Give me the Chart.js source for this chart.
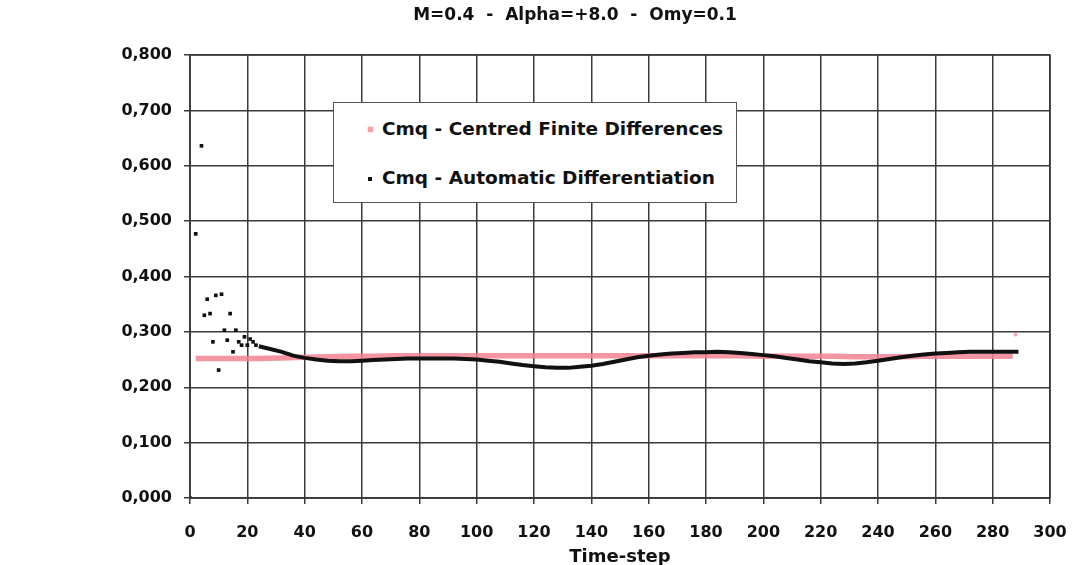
<!DOCTYPE html>
<html lang="en">
<head>
    <meta charset="UTF-8">
    <title>Cmq - M=0.4</title>
    <script src="https://cdn.jsdelivr.net/npm/chart.js"></script>
    <style>
        body { margin: 0; background: #fff; }
        .wrap { position: relative; width: 1076px; height: 565px; font-family: "DejaVu Sans", Arial, sans-serif; font-weight: bold; color: #111; }
        .titulo { position: absolute; left: 0; width: 1150px; top: 4px; text-align: center; font-size: 17px; white-space: pre; }
        .eixo-x { position: absolute; left: 520px; width: 200px; top: 545px; text-align: center; font-size: 18px; }
        .legenda { position: absolute; left: 333px; top: 102px; width: 402px; height: 99px; border: 1.5px solid #555; background: #fff; font-size: 18.5px; }
        .item { position: absolute; left: 48px; white-space: nowrap; }
        .marca { position: absolute; left: -14px; top: 9px; width: 5px; height: 5px; }
    </style>
</head>
<body>
    <div class="wrap">
        <div class="titulo">M=0.4  -  Alpha=+8.0  -  Omy=0.1</div>
        <canvas id="grafico" width="1076" height="565"></canvas>
        <!-- legenda dentro da area do grafico -->
        <div class="legenda">
            <div class="item" style="top: 15px;"><span class="marca" style="background: #f5a0aa; box-shadow: 0 0 3px #f5b0b8;"></span>Cmq - Centred Finite Differences</div>
            <div class="item" style="top: 64px;"><span class="marca" style="background: #111; width: 4px; height: 4px; top: 10px;"></span>Cmq - Automatic Differentiation</div>
        </div>
        <div class="eixo-x">Time-step</div>
    </div>

<script>
    // Cmq - Centred Finite Differences
    const cfdSteps = [2, 8, 16, 24, 32, 40, 48, 56, 64, 72, 80, 88, 96, 104, 112, 120, 128, 136, 144, 152, 160, 168, 176, 184, 192, 200, 208, 216, 224, 232, 240, 248, 256, 264, 272, 280, 287];
    const cfdValues = [0.252, 0.252, 0.252, 0.252, 0.253, 0.254, 0.255, 0.256, 0.256, 0.257, 0.257, 0.257, 0.257, 0.257, 0.257, 0.257, 0.257, 0.257, 0.257, 0.257, 0.257, 0.257, 0.257, 0.257, 0.257, 0.256, 0.256, 0.256, 0.256, 0.255, 0.255, 0.255, 0.256, 0.256, 0.256, 0.256, 0.256];
    const cfdEndStep = [288];
    const cfdEndValue = [0.295];

    // Cmq - Automatic Differentiation (inicio disperso)
    const adScatterSteps = [0, 2, 4, 5, 6, 7, 8, 9, 10, 11, 12, 13, 14, 15, 16, 17, 18, 19, 20, 21, 22, 23];
    const adScatterValues = [0.000, 0.477, 0.636, 0.330, 0.359, 0.333, 0.282, 0.366, 0.231, 0.368, 0.303, 0.285, 0.333, 0.264, 0.303, 0.282, 0.276, 0.291, 0.276, 0.287, 0.282, 0.276];

    // Cmq - Automatic Differentiation (parte suave)
    const adSteps = [24, 28, 32, 36, 40, 44, 48, 52, 56, 60, 64, 68, 72, 76, 80, 84, 88, 92, 96, 100, 104, 108, 112, 116, 120, 124, 128, 132, 136, 140, 144, 148, 152, 156, 160, 164, 168, 172, 176, 180, 184, 188, 192, 196, 200, 204, 208, 212, 216, 220, 224, 228, 232, 236, 240, 244, 248, 252, 256, 260, 264, 268, 272, 276, 280, 284, 289];
    const adValues = [0.274, 0.269, 0.264, 0.257, 0.253, 0.250, 0.248, 0.247, 0.247, 0.248, 0.249, 0.250, 0.251, 0.252, 0.252, 0.252, 0.252, 0.252, 0.251, 0.250, 0.248, 0.246, 0.243, 0.240, 0.238, 0.236, 0.235, 0.235, 0.237, 0.239, 0.242, 0.246, 0.250, 0.254, 0.257, 0.259, 0.261, 0.262, 0.263, 0.263, 0.264, 0.263, 0.262, 0.260, 0.258, 0.256, 0.253, 0.250, 0.247, 0.245, 0.243, 0.242, 0.243, 0.245, 0.248, 0.251, 0.254, 0.257, 0.259, 0.261, 0.262, 0.263, 0.264, 0.264, 0.264, 0.264, 0.264];

    const xTicks = [0, 20, 40, 60, 80, 100, 120, 140, 160, 180, 200, 220, 240, 260, 280, 300];
    const yTicks = [0, 0.1, 0.2, 0.3, 0.4, 0.5, 0.6, 0.7, 0.8];

    function pares(xs, ys) {
        var lista = [];
        for (let i = 0; i < xs.length; i++) {
            lista.push({ x: xs[i], y: ys[i] });
        }
        return lista;
    }

    const fonte = { family: '"DejaVu Sans", Arial, sans-serif', size: 16, weight: 'bold' };

    const config = {
        type: 'scatter',
        data: {
            datasets: [
                {
                    label: 'Cmq - Automatic Differentiation',
                    data: pares(adSteps, adValues),
                    showLine: true,
                    borderColor: '#111',
                    borderWidth: 4,
                    pointRadius: 0,
                    order: 0
                },
                {
                    label: 'Cmq - Automatic Differentiation',
                    data: pares(adScatterSteps, adScatterValues),
                    pointStyle: 'rect',
                    pointRadius: 2.6,
                    backgroundColor: '#111',
                    borderColor: '#111',
                    borderWidth: 0,
                    order: 0
                },
                {
                    label: 'Cmq - Centred Finite Differences',
                    data: pares(cfdSteps, cfdValues),
                    showLine: true,
                    borderColor: 'rgba(242, 130, 145, 0.85)',
                    borderWidth: 5.5,
                    pointRadius: 0,
                    order: 1
                },
                {
                    label: 'Cmq - Centred Finite Differences',
                    data: pares(cfdEndStep, cfdEndValue),
                    pointStyle: 'rect',
                    pointRadius: 2.4,
                    backgroundColor: 'rgba(240, 150, 160, 0.8)',
                    borderWidth: 0,
                    order: 1
                }
            ]
        },
        options: {
            responsive: false,
            animation: false,
            layout: { padding: { left: 0, top: 55, right: 26, bottom: 0 } },
            plugins: {
                legend: { display: false },
                tooltip: { enabled: false }
            },
            scales: {
                x: {
                    type: 'linear',
                    min: 0,
                    max: 300,
                    afterFit: function (scale) {
                        scale.height = 67;
                        scale.paddingLeft = 0;
                        scale.paddingRight = 0;
                    },
                    afterBuildTicks: function (scale) { scale.ticks = xTicks.map(v => ({ value: v })); },
                    grid: { color: '#3a3a3a', lineWidth: 1.5, tickLength: 6 },
                    border: { color: '#3a3a3a', width: 1.5 },
                    ticks: { font: fonte, color: '#111', padding: 19, maxRotation: 0 }
                },
                y: {
                    type: 'linear',
                    min: 0,
                    max: 0.8,
                    afterFit: function (scale) {
                        scale.width = 190;
                        scale.paddingTop = 0;
                        scale.paddingBottom = 0;
                    },
                    afterBuildTicks: function (scale) { scale.ticks = yTicks.map(v => ({ value: v })); },
                    grid: { color: '#3a3a3a', lineWidth: 1.5, tickLength: 6 },
                    border: { color: '#3a3a3a', width: 1.5 },
                    ticks: {
                        font: fonte,
                        color: '#111',
                        padding: 12,
                        callback: function (v) { return v.toFixed(3).replace('.', ','); }
                    }
                }
            }
        },
        plugins: [{
            id: 'bordaTopo',
            afterDraw: function (chart) {
                var a = chart.chartArea, ctx = chart.ctx;
                ctx.save();
                ctx.strokeStyle = '#3a3a3a';
                ctx.lineWidth = 1.5;
                ctx.strokeRect(a.left, a.top, a.right - a.left, a.bottom - a.top);
                ctx.restore();
            }
        }]
    };

    const meuGrafico = new Chart(document.getElementById('grafico'), config);
</script>
</body>
</html>
